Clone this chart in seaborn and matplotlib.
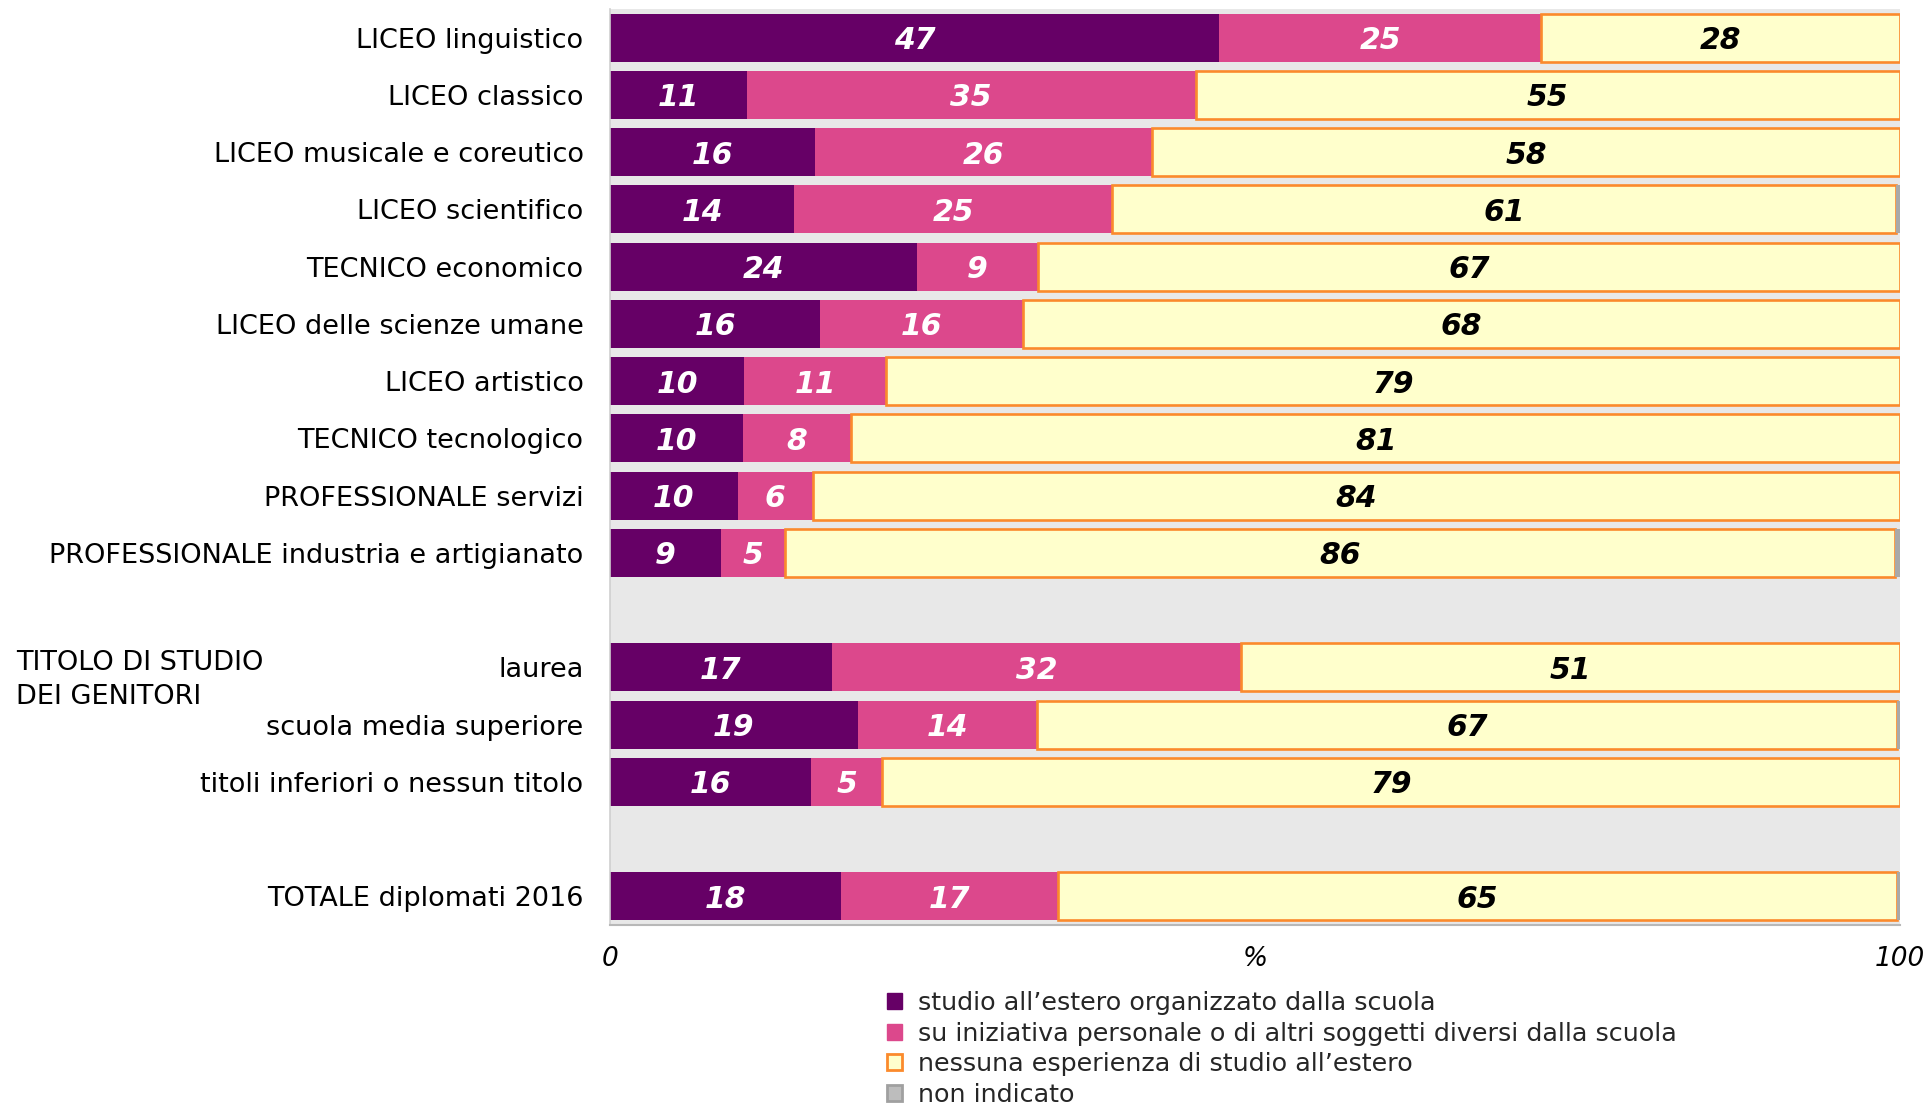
import numpy as np
import pandas as pd
import matplotlib
matplotlib.use("Agg")
import matplotlib.pyplot as plt
import seaborn as sns
from matplotlib.patches import Patch

# ---------------- data ----------------
categories = [
    "LICEO linguistico", "LICEO classico", "LICEO musicale e coreutico",
    "LICEO scientifico", "TECNICO economico", "LICEO delle scienze umane",
    "LICEO artistico", "TECNICO tecnologico", "PROFESSIONALE servizi",
    "PROFESSIONALE industria e artigianato",
    "laurea", "scuola media superiore", "titoli inferiori o nessun titolo",
    "TOTALE diplomati 2016",
]
# segment widths (%)
scuola = [47.2, 10.6, 15.9, 14.3, 23.8, 16.3, 10.4, 10.3, 9.9, 8.6, 17.2, 19.2, 15.6, 17.9]
personale = [25.0, 34.8, 26.1, 24.6, 9.4, 15.7, 11.0, 8.4, 5.8, 5.0, 31.7, 13.9, 5.5, 16.8]
nessuna = [27.8, 54.6, 58.0, 60.8, 66.8, 68.0, 78.6, 81.3, 84.3, 86.0, 51.1, 66.7, 78.9, 65.1]
non_indicato = [0, 0, 0, 0.3, 0, 0, 0, 0, 0, 0.4, 0, 0.2, 0, 0.2]
# printed labels
lab_scuola = [47, 11, 16, 14, 24, 16, 10, 10, 10, 9, 17, 19, 16, 18]
lab_personale = [25, 35, 26, 25, 9, 16, 11, 8, 6, 5, 32, 14, 5, 17]
lab_nessuna = [28, 55, 58, 61, 67, 68, 79, 81, 84, 86, 51, 67, 79, 65]

series_names = [
    "studio all\u2019estero organizzato dalla scuola",
    "su iniziativa personale o di altri soggetti diversi dalla scuola",
    "nessuna esperienza di studio all\u2019estero",
    "non indicato",
]
x_tick_labels = ["0", "%", "100"]
group_title = "TITOLO DI STUDIO\nDEI GENITORI"

# ---------------- style ----------------
C_PURPLE = "#660066"
C_PINK = "#dc488c"
C_YELLOW = "#ffffcc"
C_ORANGE = "#fb8a2c"
C_GREY = "#a9a9a9"
BG = "#e8e8e8"

sns.set_theme(style="white")
plt.rcParams["font.family"] = ["DejaVu Sans"]

order = categories[:10] + [" "] + categories[10:13] + ["  "] + categories[13:]
pos = {c: order.index(c) for c in categories}

fig = plt.figure(figsize=(19.31, 11.07), dpi=100)
ax = fig.add_axes([610 / 1931, 1 - 925 / 1107, 1290 / 1931, 916 / 1107])
ax.set_facecolor(BG)

df = pd.DataFrame({
    "cat": categories,
    "scuola": scuola,
    "personale": personale,
    "nessuna": nessuna,
    "non": non_indicato,
})
left1 = np.zeros(len(df))
left2 = df["scuola"].to_numpy()
left3 = left2 + df["personale"].to_numpy()
left4 = left3 + df["nessuna"].to_numpy()

BW = 0.84
common = dict(data=df, y="cat", order=order, orient="h", ax=ax, width=BW,
              errorbar=None, saturation=1)
sns.barplot(x="scuola", color=C_PURPLE, left=left1, linewidth=0, **common)
sns.barplot(x="personale", color=C_PINK, left=left2, linewidth=0, **common)
sns.barplot(x="nessuna", color=C_YELLOW, left=left3, linewidth=1.9,
            edgecolor=C_ORANGE, **common)
sns.barplot(x="non", color=C_GREY, left=left4, linewidth=0, **common)

# value labels
lab_kw = dict(ha="center", va="center_baseline", fontsize=21.5,
              fontweight="bold", fontstyle="italic")
for i, c in enumerate(categories):
    y = pos[c]
    ax.text(left1[i] + scuola[i] / 2, y, str(lab_scuola[i]), color="white", **lab_kw)
    ax.text(left2[i] + personale[i] / 2, y, str(lab_personale[i]), color="white", **lab_kw)
    ax.text(left3[i] + nessuna[i] / 2, y, str(lab_nessuna[i]), color="black", **lab_kw)

ax.set_xlim(0, 100)
ax.set_ylim(len(order) - 0.5, -0.5)
ax.set_xlabel("")
ax.set_ylabel("")

ax.set_xticks([0, 50, 100])
ax.set_xticklabels(x_tick_labels, fontsize=19, fontstyle="italic")
ax.tick_params(axis="x", direction="out", length=6, width=1, color="#b8b8b8",
               pad=9, labelcolor="black")
ax.tick_params(axis="y", length=0, pad=19, labelsize=19.5, labelcolor="black")

for s in ["top", "right"]:
    ax.spines[s].set_visible(False)
ax.spines["bottom"].set_color("#b8b8b8")
ax.spines["bottom"].set_linewidth(1.5)
ax.spines["left"].set_color("#cfcfcf")
ax.spines["left"].set_linewidth(1.2)

fig.text(16 / 1931, 1 - 680 / 1107, group_title, ha="left", va="center",
         fontsize=19.5, linespacing=1.35, color="black")

handles = [
    Patch(facecolor=C_PURPLE, edgecolor=C_PURPLE, linewidth=1),
    Patch(facecolor=C_PINK, edgecolor=C_PINK, linewidth=1),
    Patch(facecolor=C_YELLOW, edgecolor=C_ORANGE, linewidth=2),
    Patch(facecolor="#bdbdbd", edgecolor="#a0a0a0", linewidth=2),
]
fig.legend(handles, series_names, loc="upper left",
           bbox_to_anchor=(887 / 1931, 1 - 991 / 1107), frameon=False,
           fontsize=18.3, labelspacing=0.26, handlelength=0.6, handleheight=0.6,
           handletextpad=0.62, borderpad=0, borderaxespad=0)

fig.savefig("out.png", dpi=100)
